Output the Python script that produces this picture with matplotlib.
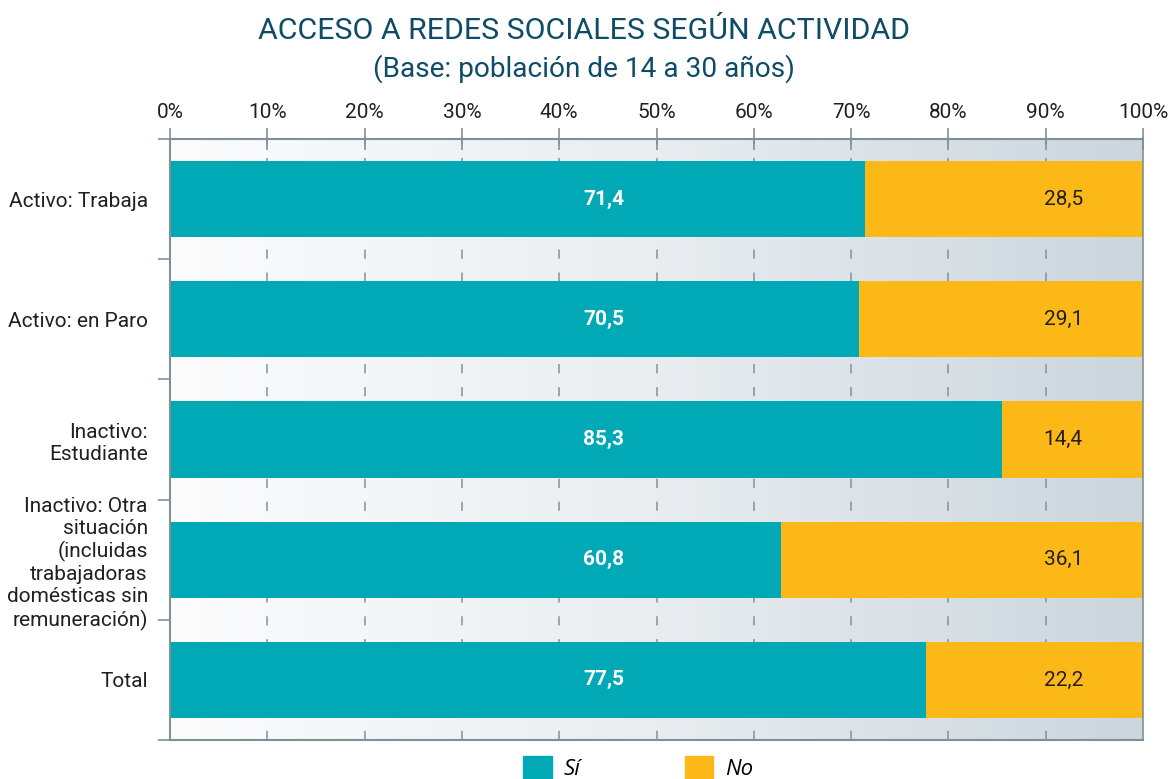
import numpy as np
import matplotlib
matplotlib.use("Agg")
import matplotlib.pyplot as plt
from matplotlib.colors import LinearSegmentedColormap
from matplotlib.patches import Patch
from matplotlib import font_manager

categories = ["Activo: Trabaja", "Activo: en Paro", "Inactivo:\nEstudiante",
              "Inactivo: Otra\nsituación\n(incluidas\ntrabajadoras\ndomésticas sin\nremuneración)",
              "Total"]
si_values = [71.4, 70.5, 85.3, 60.8, 77.5]
no_values = [28.5, 29.1, 14.4, 36.1, 22.2]
xtick_labels = ["0%", "10%", "20%", "30%", "40%", "50%", "60%", "70%", "80%", "90%", "100%"]
series_names = ["Sí", "No"]

names = {f.name for f in font_manager.fontManager.ttflist}
COND = "Liberation Sans Narrow" if "Liberation Sans Narrow" in names else "Roboto"
LEG = "Open Sans"

TEAL = "#00A9B5"
YELLOW = "#FBB817"
TITLE_C = "#0F4C68"
TEXT_C = "#231F20"
AX_C = "#7F9099"

fig = plt.figure(figsize=(11.68, 7.79), dpi=100)
ax = fig.add_axes([170/1168, 1-740/779, 973/1168, 601/779])

n = len(categories)
y = np.arange(n)
si = np.array(si_values)
no = np.array(no_values)
tot = si + no
si_p = si / tot * 100
no_p = no / tot * 100

# gradient background
cmap = LinearSegmentedColormap.from_list("bg", ["#FCFCFD", "#E9EDF0", "#CBD6DD"])
grad = np.linspace(0, 1, 256).reshape(1, -1)
ax.imshow(grad, cmap=cmap, aspect="auto", extent=[0, 100, n - 0.5, -0.5], zorder=0)

for xv in range(10, 100, 10):
    ax.axvline(xv, color="#7F939E", lw=1.1, ls=(0, (6, 9)), zorder=1)

h = 0.633
ax.barh(y, si_p, height=h, color=TEAL, zorder=2, label=series_names[0])
ax.barh(y, no_p, left=si_p, height=h, color=YELLOW, zorder=2, label=series_names[1])

for i in range(n):
    ax.text(44.6, y[i], f"{si[i]:.1f}".replace(".", ","), color="white", fontsize=15,
            fontweight="bold", ha="center", va="center", family=COND, zorder=3)
    ax.text(91.8, y[i], f"{no[i]:.1f}".replace(".", ","), color=TEXT_C, fontsize=15,
            ha="center", va="center", family=COND, zorder=3)

ax.set_xlim(0, 100)
ax.set_ylim(n - 0.5, -0.5)
ax.xaxis.tick_top()
ax.set_xticks(np.arange(0, 101, 10))
ax.set_xticklabels(xtick_labels, family=COND, fontsize=15, color=TEXT_C)
ax.tick_params(axis="x", direction="inout", length=16, width=1.2, color=AX_C, pad=4)

ax.set_yticks(y)
ax.set_yticklabels(categories, family=COND, fontsize=15, color=TEXT_C,
                   linespacing=1.2, ha="right")
ax.tick_params(axis="y", length=0, pad=16)
ax.set_yticks(np.arange(-0.5, n, 1), minor=True)
ax.tick_params(axis="y", which="minor", length=9, width=1.2, color=AX_C)

for s in ["top", "left", "bottom", "right"]:
    ax.spines[s].set_color(AX_C)
    ax.spines[s].set_linewidth(1.5)
ax.spines["right"].set_linewidth(1.2)

fig.text(0.5, 1 - 31/779, "ACCESO A REDES SOCIALES SEGÚN ACTIVIDAD", ha="center", va="center",
         fontsize=21.8, color=TITLE_C, family=COND)
fig.text(0.5, 1 - 69/779, "(Base: población de 14 a 30 años)", ha="center", va="center",
         fontsize=20.2, color=TITLE_C, family=COND)

handles = [Patch(color=TEAL), Patch(color=YELLOW)]
leg = fig.legend(handles, series_names, loc="center", bbox_to_anchor=(638/1168, 1 - 768/779),
                 ncol=2, frameon=False, handlelength=1.3, handleheight=1.3, handletextpad=0.5,
                 columnspacing=4.7, prop={"family": LEG, "style": "italic", "size": 16})

fig.savefig("out.png", dpi=100)
